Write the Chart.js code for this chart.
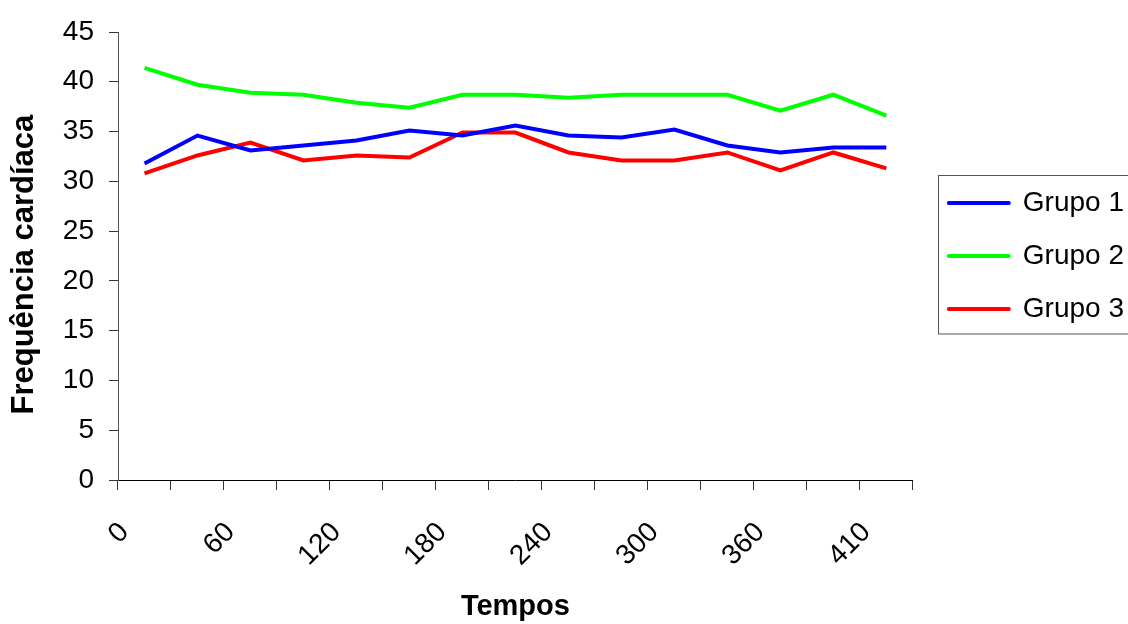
<!DOCTYPE html>
<html>
<head>
<meta charset="utf-8">
<script src="https://cdn.jsdelivr.net/npm/chart.js@4/dist/chart.umd.min.js"></script>
<style>
    html, body { margin: 0; padding: 0; background: #ffffff; }
    #chart { display: block; }
</style>
</head>
<body>
<canvas id="chart" width="1128" height="624"></canvas>
<script>
"use strict";

// data

let TEMPOS = ["0", "30", "60", "90", "120", "150", "180", "210", "240", "270", "300", "330", "360", "390", "410"];
let GRUPO1 = [31.8, 34.6, 33.1, 33.6, 34.1, 35.1, 34.6, 35.6, 34.6, 34.4, 35.2, 33.6, 32.9, 33.4, 33.4];
let GRUPO2 = [41.4, 39.7, 38.9, 38.7, 37.9, 37.4, 38.7, 38.7, 38.4, 38.7, 38.7, 38.7, 37.1, 38.7, 36.6];
let GRUPO3 = [30.8, 32.6, 33.9, 32.1, 32.6, 32.4, 34.9, 34.9, 32.9, 32.1, 32.1, 32.9, 31.1, 32.9, 31.3];
let Y_TICKS = [0, 5, 10, 15, 20, 25, 30, 35, 40, 45];

let FONT = "'Liberation Sans', Arial, sans-serif";
let AXIS_COLOR = "#333333";


function makeLine(label, data, color) {
    return {
        label: label,
        data: data,
        borderColor: color,
        backgroundColor: color,
        borderWidth: 4,
        pointRadius: 0,
        tension: 0,
        fill: false
    };
}


// legend sits a bit away from the plot, and has a border round it
let legendBox = {
    id: "legendBox",
    afterLayout: function(chart) {
        let lg = chart.legend;
        lg.left += 11;
        lg.right += 11;
    },
    afterDraw: function(chart) {
        let lg = chart.legend;
        if (!lg || !lg.legendHitBoxes.length) {
            return;
        }
        let boxes = lg.legendHitBoxes;
        let first = boxes[0];
        let last = boxes[boxes.length - 1];
        let ctx = chart.ctx;
        ctx.save();
        ctx.strokeStyle = "#555555";
        ctx.lineWidth = 1;
        let x = Math.round(first.left - 11) + 0.5;
        let y = Math.round(first.top - 14) + 0.5;
        let h = Math.round(last.top + last.height + 11) - y;
        ctx.strokeRect(x, y, chart.width + 20 - x, h);
        ctx.restore();
    }
};


let ctx = document.getElementById("chart").getContext("2d");

let chart = new Chart(ctx, {
    type: "line",
    data: {
        labels: TEMPOS,
        datasets: [
            makeLine("Grupo 1", GRUPO1, "#0000ff"),
            makeLine("Grupo 2", GRUPO2, "#00ff00"),
            makeLine("Grupo 3", GRUPO3, "#ff0000")
        ]
    },
    options: {
        responsive: false,
        animation: false,
        layout: {
            padding: { left: 0, top: 32, right: 5, bottom: 0 }
        },
        plugins: {
            tooltip: { enabled: false },
            legend: {
                position: "right",
                fullSize: false,
                labels: {
                    usePointStyle: true,
                    pointStyle: "line",
                    pointStyleWidth: 60,
                    padding: 25,
                    color: "#000000",
                    font: { family: FONT, size: 28 },
                    generateLabels: function(chart) {
                        return chart.data.datasets.map(function(ds, i) {
                            return {
                                text: ds.label,
                                fillStyle: ds.borderColor,
                                strokeStyle: ds.borderColor,
                                lineWidth: 4,
                                lineCap: "round",
                                pointStyle: "line",
                                datasetIndex: i,
                                hidden: false
                            };
                        });
                    }
                }
            }
        },
        scales: {
            x: {
                offset: true,
                grid: {
                    offset: true,
                    drawOnChartArea: false,
                    drawTicks: true,
                    tickLength: 10,
                    color: AXIS_COLOR
                },
                border: { color: "#000000", width: 1 },
                ticks: {
                    autoSkip: false,
                    maxRotation: 45,
                    minRotation: 45,
                    padding: 26,
                    labelOffset: -20,
                    color: "#000000",
                    font: { family: FONT, size: 28 },
                    callback: function(val, i) {
                        return i % 2 === 0 ? TEMPOS[i] : "";
                    }
                },
                title: {
                    display: true,
                    text: "Tempos",
                    color: "#000000",
                    font: { family: FONT, size: 29, weight: "bold" },
                    padding: { top: 0, bottom: 0 }
                },
                afterFit: function(scale) {
                    scale.height = 144;
                }
            },
            y: {
                min: 0,
                max: 45,
                grid: {
                    drawOnChartArea: false,
                    drawTicks: true,
                    tickLength: 9,
                    color: AXIS_COLOR
                },
                border: { color: "#555555", width: 1 },
                afterBuildTicks: function(scale) {
                    scale.ticks = Y_TICKS.map(function(v) { return { value: v }; });
                },
                ticks: {
                    padding: 15,
                    color: "#000000",
                    font: { family: FONT, size: 28 }
                },
                title: {
                    display: true,
                    // trailing spaces push the centred title a little lower, as in the original
                    text: "Frequência cardíaca  ",
                    color: "#000000",
                    font: { family: FONT, size: 31, weight: "bold" },
                    padding: { top: 6, bottom: 0 }
                },
                afterFit: function(scale) {
                    scale.width = 118;
                }
            }
        }
    },
    plugins: [legendBox]
});
</script>
</body>
</html>
